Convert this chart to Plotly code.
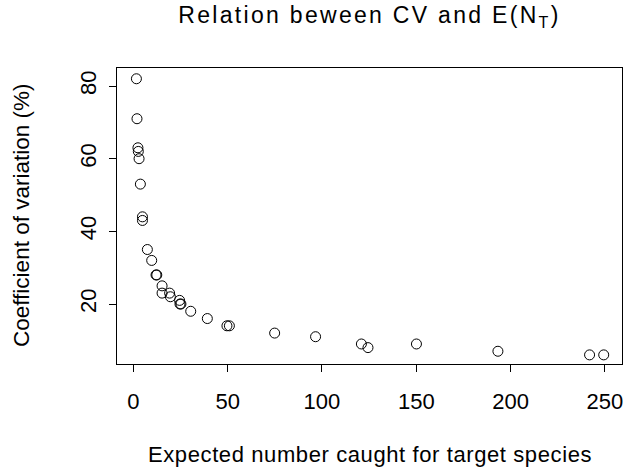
import plotly.graph_objects as go

expected_catch = [1.6, 1.9, 2.4, 2.6, 3.0, 3.7, 4.8, 4.8, 7.4, 9.7, 12.0, 12.4,
                  15.2, 15.2, 19.2, 19.6, 24.5, 24.7, 25.2, 30.4, 39.2, 49.6, 50.9,
                  74.9, 96.6, 120.9, 124.4, 150.1, 193.3, 241.9, 249.4]
cv_percent = [82, 71, 63, 62, 60, 53, 44, 43, 35, 32, 28, 28,
              25, 23, 23, 22, 21, 20, 20, 18, 16, 14, 14,
              12, 11, 9, 8, 9, 7, 6, 6]

x_ticks = [0, 50, 100, 150, 200, 250]
y_ticks = [20, 40, 60, 80]

FONT = "Liberation Sans, Arial, Helvetica, sans-serif"

fig = go.Figure()
fig.add_trace(go.Scatter(
    x=expected_catch, y=cv_percent, mode="markers",
    marker=dict(symbol="circle-open", size=10, color="black", line=dict(width=1, color="black")),
    showlegend=False, hoverinfo="skip",
))

axis_common = dict(
    showgrid=False, zeroline=False, showline=True, mirror=True,
    linecolor="black", linewidth=1, ticks="outside", ticklen=7,
    tickcolor="black", tickwidth=1, automargin=False,
    tickfont=dict(family=FONT, size=22, color="black"),
)

fig.update_layout(
    width=626, height=470,
    margin=dict(l=117, r=4, t=68, b=106, autoexpand=False),
    paper_bgcolor="white", plot_bgcolor="white",
    font=dict(family=FONT, color="black"),
    title=dict(text='<span style="letter-spacing:2.3px">Relation beween CV and E(N<sub>T</sub>)</span>',
               x=(117 + 622) / 2 / 626, xanchor="center", y=1 - 15 / 470, yanchor="middle",
               automargin=False, font=dict(family=FONT, size=23, color="black")),
    xaxis=dict(range=[-8.7, 259.1], tickvals=x_ticks, ticklabelstandoff=11, **axis_common),
    yaxis=dict(range=[3.49, 84.96], tickvals=y_ticks, tickangle=-90, ticklabelstandoff=4, **axis_common),
    annotations=[
        dict(text='<span style="letter-spacing:0.6px">Expected number caught for target species</span>',
             xref="paper", yref="paper",
             x=0.5, y=0, xanchor="center", yanchor="middle", yshift=-90, showarrow=False,
             font=dict(family=FONT, size=22, color="black")),
        dict(text="Coefficient of variation (%)", xref="paper", yref="paper",
             x=0, y=0.5, xanchor="center", yanchor="middle", xshift=-96, textangle=-90,
             showarrow=False, font=dict(family=FONT, size=22.5, color="black")),
    ],
)

fig.write_html("out.html", config={"displayModeBar": False},
               post_script="document.body.style.margin='0px';document.body.style.overflow='hidden';")
